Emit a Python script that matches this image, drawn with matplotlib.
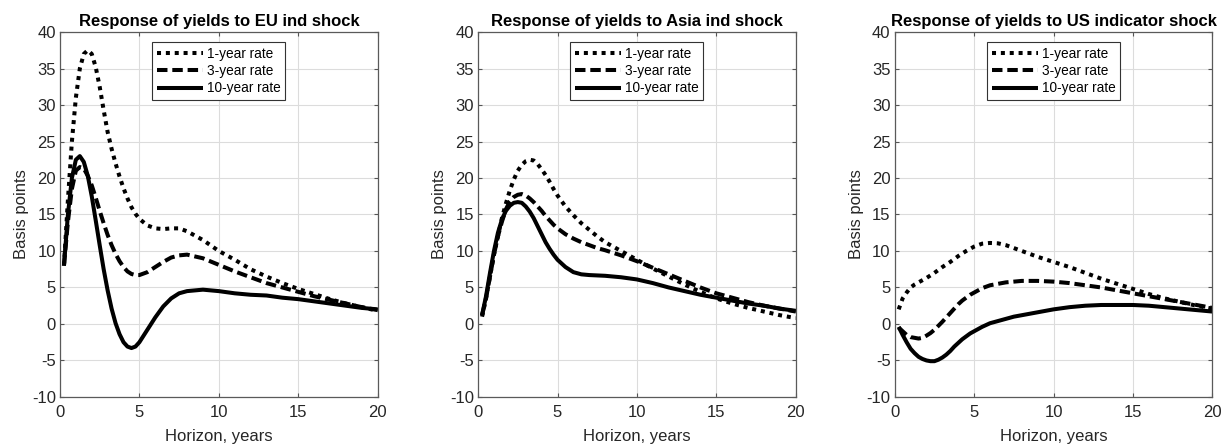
import matplotlib
matplotlib.use("Agg")
import matplotlib.pyplot as plt

plt.rcParams['font.family'] = ['Liberation Sans', 'DejaVu Sans']
plt.rcParams['axes.unicode_minus'] = False

horizon = [0.25, 0.5, 0.75, 1.0, 1.25, 1.5, 1.75, 2.0, 2.25, 2.5, 2.75, 3.0, 3.25, 3.5,
           3.75, 4.0, 4.25, 4.5, 4.75, 5.0, 5.5, 6.0, 6.5, 7.0, 7.5, 8,
           9, 10, 11, 12, 13, 14, 15, 16, 17, 18, 19, 20]

# EU industrial production shock
eu_1y = [8, 17, 25, 31, 35, 37, 37.5, 37, 35.2, 32.5, 29.3, 26.3, 24, 22,
         20.2, 18.6, 17.2, 16, 15.1, 14.4, 13.5, 13.1, 13.0, 13.1, 13.1, 12.7,
         11.5, 10, 8.8, 7.5, 6.5, 5.6, 4.8, 4.1, 3.4, 2.8, 2.3, 1.8]
eu_3y = [8, 14, 18.5, 21, 21.5, 21.3, 20.3, 19, 17.3, 15.5, 13.8, 12.2, 10.8, 9.6,
         8.6, 7.8, 7.2, 6.85, 6.7, 6.7, 7.1, 7.8, 8.5, 9.1, 9.4, 9.5,
         9.0, 8.1, 7.2, 6.4, 5.6, 5.0, 4.4, 3.8, 3.3, 2.8, 2.3, 1.9]
eu_10y = [8, 15, 20, 22.5, 23, 22.2, 20.3, 17.5, 14.2, 10.8, 7.5, 4.6, 2.1, 0.1,
          -1.4, -2.5, -3.1, -3.3, -3.1, -2.5, -0.8, 0.9, 2.4, 3.5, 4.2, 4.5,
          4.7, 4.5, 4.2, 4.0, 3.9, 3.6, 3.4, 3.1, 2.8, 2.5, 2.2, 2.0]

# Asia industrial production shock
asia_1y = [1, 3.5, 6.5, 9.5, 12, 14.5, 16.5, 18.3, 19.8, 21, 21.8, 22.3, 22.5, 22.4,
           21.9, 21.2, 20.4, 19.5, 18.5, 17.6, 16.1, 14.9, 13.8, 12.9, 12.0, 11.2,
           10, 8.8, 7.6, 6.5, 5.4, 4.4, 3.5, 2.8, 2.2, 1.7, 1.2, 0.8]
asia_3y = [1.2, 3.5, 6.5, 9.5, 12, 14, 15.7, 16.8, 17.4, 17.7, 17.8, 17.6, 17.2, 16.7,
           16.1, 15.5, 14.8, 14.2, 13.6, 13.1, 12.3, 11.7, 11.2, 10.8, 10.4, 10.1,
           9.4, 8.6, 7.7, 6.8, 5.9, 5.0, 4.2, 3.6, 3.0, 2.5, 2.1, 1.7]
asia_10y = [1.2, 3.8, 7, 10, 12.5, 14.3, 15.5, 16.2, 16.6, 16.7, 16.6, 16.1, 15.4, 14.5,
            13.4, 12.3, 11.2, 10.3, 9.5, 8.8, 7.8, 7.1, 6.8, 6.7, 6.65, 6.6,
            6.4, 6.1, 5.6, 5.0, 4.5, 4.0, 3.6, 3.2, 2.8, 2.5, 2.1, 1.8]

# US indicator shock
us_1y = [2, 3.5, 4.3, 5, 5.4, 5.7, 6.0, 6.3, 6.65, 7.0, 7.4, 7.8, 8.15, 8.5,
         8.9, 9.3, 9.65, 10, 10.3, 10.6, 11, 11.1, 11.05, 10.8, 10.4, 10,
         9.2, 8.5, 7.8, 7, 6.2, 5.5, 4.8, 4.1, 3.5, 3.0, 2.5, 2.1]
us_3y = [-0.5, -1.0, -1.5, -1.8, -1.9, -2.0, -1.9, -1.6, -1.25, -0.8, -0.25, 0.3, 0.9, 1.5,
         2.1, 2.7, 3.2, 3.6, 4.0, 4.3, 4.9, 5.3, 5.5, 5.7, 5.8, 5.9,
         5.9, 5.8, 5.6, 5.3, 5.0, 4.6, 4.2, 3.8, 3.4, 3.0, 2.6, 2.2]
us_10y = [-0.4, -1.5, -2.5, -3.4, -4.0, -4.5, -4.8, -5.0, -5.1, -5.1, -4.9, -4.6, -4.2, -3.7,
          -3.1, -2.6, -2.1, -1.7, -1.3, -1.0, -0.4, 0.1, 0.4, 0.7, 1.0, 1.2,
          1.6, 2.0, 2.3, 2.5, 2.6, 2.6, 2.6, 2.5, 2.3, 2.1, 1.9, 1.7]

titles = ["Response of yields to EU ind shock",
          "Response of yields to Asia ind shock",
          "Response of yields to US indicator shock"]
series_labels = ["1-year rate", "3-year rate", "10-year rate"]
panels = [(eu_1y, eu_3y, eu_10y), (asia_1y, asia_3y, asia_10y), (us_1y, us_3y, us_10y)]

styles = [(0, (1, 1.2)), (0, (2.6, 1.2)), '-']

fig = plt.figure(figsize=(12.29, 4.45), dpi=100)
lefts = [0.0488, 0.389, 0.728]
for left, title, data in zip(lefts, titles, panels):
    ax = fig.add_axes([left, 0.108, 0.2585, 0.820])
    for vals, ls, lab in zip(data, styles, series_labels):
        ax.plot(horizon, vals, color='black', linestyle=ls, linewidth=2.9, label=lab,
                solid_capstyle='butt', dash_capstyle='butt')
    ax.set_xlim(0, 20)
    ax.set_ylim(-10, 40)
    ax.set_xticks([0, 5, 10, 15, 20])
    ax.set_yticks(range(-10, 41, 5))
    ax.grid(True, color='#dcdcdc', linewidth=0.8)
    ax.set_axisbelow(True)
    ax.tick_params(direction='in', top=True, right=True, length=3, width=0.8,
                   color='#555555', labelsize=12, labelcolor='#262626', pad=3)
    ax.tick_params(axis='x', pad=6)
    for sp in ax.spines.values():
        sp.set_color('#5a5a5a')
        sp.set_linewidth(0.9)
    ax.set_title(title, fontsize=12, fontweight='bold', pad=4)
    ax.set_xlabel("Horizon, years", fontsize=12, color='#262626', labelpad=6)
    ax.set_ylabel("Basis points", fontsize=12, color='#262626', labelpad=2)
    leg = ax.legend(loc='upper center', bbox_to_anchor=(0.5, 0.973), fontsize=9.8,
                    handlelength=3.4, handletextpad=0.25, borderpad=0.35,
                    labelspacing=0.25, borderaxespad=0, fancybox=False, framealpha=1)
    leg.get_frame().set_edgecolor('#333333')
    leg.get_frame().set_linewidth(0.8)

fig.savefig("out.png", dpi=100)
